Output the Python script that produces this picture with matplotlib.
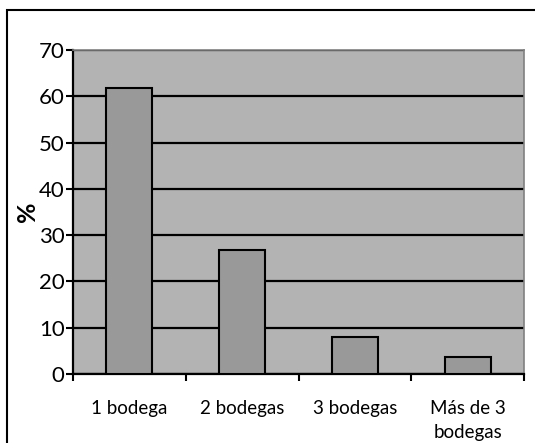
import matplotlib
matplotlib.use("Agg")
import matplotlib.pyplot as plt
from matplotlib.patches import Rectangle
import numpy as np

categorias = ["1 bodega", "2 bodegas", "3 bodegas", "Más de 3\nbodegas"]
porcentajes = [61.7, 26.8, 7.9, 3.7]
yticks = [0, 10, 20, 30, 40, 50, 60, 70]

plt.rcParams['font.family'] = ['Lato', 'DejaVu Sans']

fig = plt.figure(figsize=(5.35, 4.43), dpi=100)
fig.patch.set_facecolor('white')

# marco exterior del gráfico
fig.patches.append(Rectangle((7/535, -0.05), 1.1, 1 - 10/443 + 0.05,
                             transform=fig.transFigure, fill=False,
                             edgecolor='black', linewidth=1.5))

ax = fig.add_axes([73/535, 1 - 374/443, (524 - 73)/535, (374 - 50)/443])
ax.set_facecolor('#b3b3b3')

x = np.arange(len(categorias))
ax.set_axisbelow(True)
ax.yaxis.grid(True, color='black', linewidth=1.6)
ax.bar(x, porcentajes, width=0.41, color='#999999', edgecolor='black',
       linewidth=1.5, zorder=3)

ax.set_xlim(-0.5, len(categorias) - 0.5)
ax.set_ylim(0, 70)
ax.set_yticks(yticks)
ax.tick_params(axis='y', direction='out', length=5, width=1.5, labelsize=16, pad=1)

# marcas del eje x entre categorías
ax.set_xticks(np.arange(-0.5, len(categorias), 1.0))
ax.set_xticklabels([])
ax.set_xticks(x, minor=True)
ax.set_xticklabels(categorias, minor=True, fontsize=13.5, linespacing=1.45)
ax.tick_params(axis='x', which='major', direction='out', length=5, width=1.5)
ax.tick_params(axis='x', which='minor', length=0, pad=19)

for s in ['left', 'bottom']:
    ax.spines[s].set_color('black')
    ax.spines[s].set_linewidth(1.6)
for s in ['top', 'right']:
    ax.spines[s].set_color('#808080')
    ax.spines[s].set_linewidth(1.2)

ax.set_ylabel('%', fontsize=18, fontweight='bold')
ax.yaxis.set_label_coords(-34/451, 0.5)

fig.savefig('out.png', dpi=100)
